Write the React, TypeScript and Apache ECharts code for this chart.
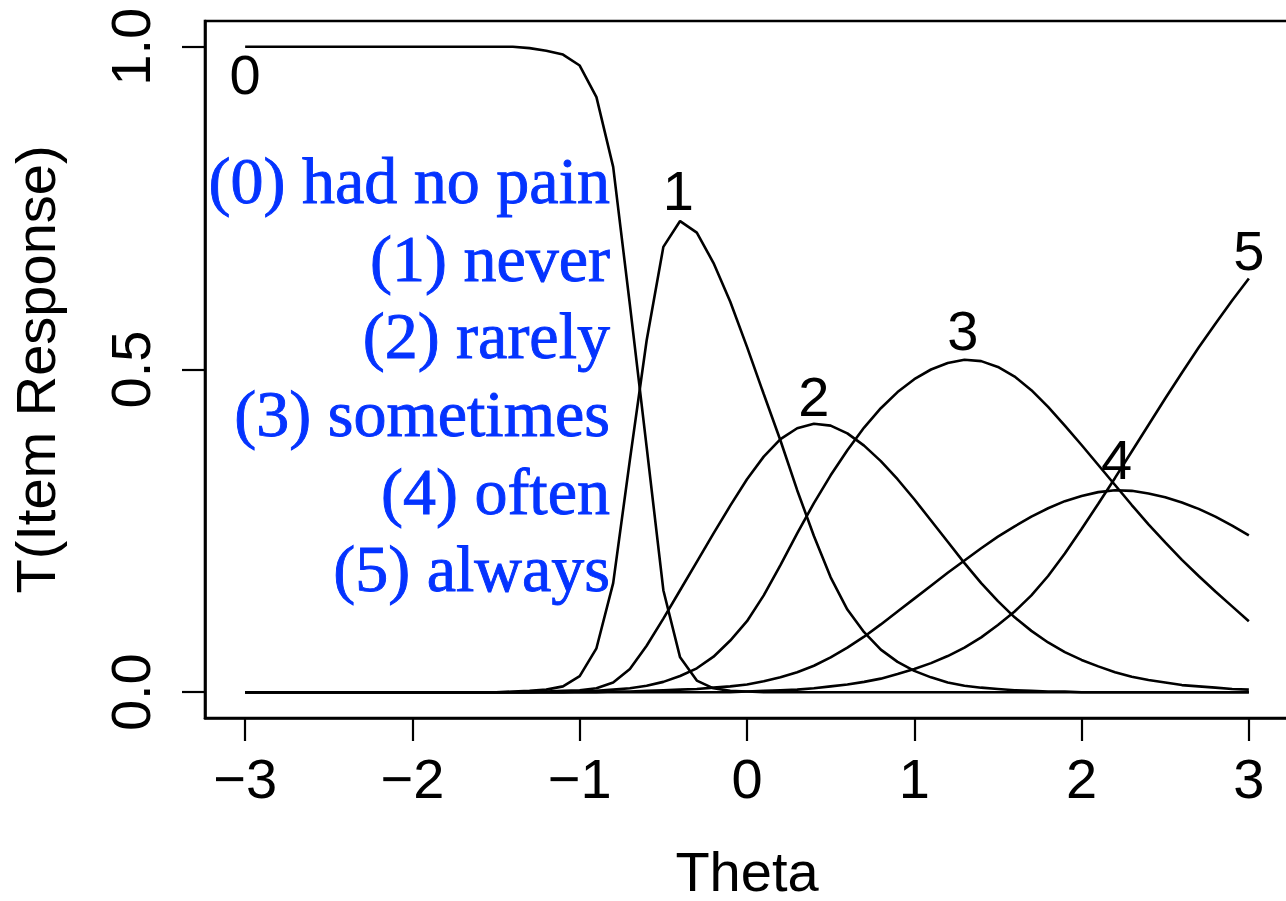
import React, { useEffect, useRef } from 'react';
import * as echarts from 'echarts';

// Theta grid (x) shared by all trace lines
const theta = [
  -3, -2.5, -2, -1.5, -1.4, -1.3, -1.2, -1.1, -1.0, -0.9, -0.8, -0.7, -0.6, -0.5, -0.4, -0.3, -0.2, -0.1,
  0, 0.1, 0.2, 0.3, 0.4, 0.5, 0.6, 0.7, 0.8, 0.9, 1.0, 1.1, 1.2, 1.3, 1.4, 1.5, 1.6, 1.7, 1.8, 1.9,
  2.0, 2.1, 2.2, 2.3, 2.4, 2.5, 2.6, 2.7, 2.8, 2.9, 3.0,
];

// Trace lines T(Item Response) for categories 0..5
const p0 = [
  1, 1, 1, 1, 1, 0.998, 0.994, 0.988, 0.971, 0.922, 0.814, 0.6, 0.38, 0.158, 0.054, 0.018, 0.006, 0.002,
  0.001, 0, 0, 0, 0, 0, 0, 0, 0, 0, 0, 0, 0, 0, 0, 0, 0, 0, 0, 0,
  0, 0, 0, 0, 0, 0, 0, 0, 0, 0, 0,
];
const p1 = [
  0, 0, 0, 0, 0.001, 0.002, 0.004, 0.009, 0.025, 0.068, 0.169, 0.36, 0.545, 0.69, 0.73, 0.712, 0.665, 0.605,
  0.535, 0.462, 0.39, 0.313, 0.242, 0.178, 0.128, 0.093, 0.066, 0.047, 0.033, 0.023, 0.015, 0.01, 0.007, 0.005, 0.003, 0.002, 0.001, 0.001,
  0, 0, 0, 0, 0, 0, 0, 0, 0, 0, 0,
];
const p2 = [
  0, 0, 0, 0, 0, 0, 0.001, 0.002, 0.003, 0.006, 0.015, 0.036, 0.072, 0.114, 0.158, 0.202, 0.246, 0.289,
  0.33, 0.365, 0.392, 0.409, 0.416, 0.413, 0.401, 0.382, 0.358, 0.33, 0.299, 0.266, 0.233, 0.2, 0.169, 0.141, 0.116, 0.095, 0.077, 0.062,
  0.05, 0.04, 0.031, 0.024, 0.019, 0.015, 0.011, 0.009, 0.007, 0.005, 0.004,
];
const p3 = [
  0, 0, 0, 0, 0, 0, 0, 0, 0.001, 0.002, 0.004, 0.006, 0.01, 0.016, 0.025, 0.037, 0.055, 0.08,
  0.11, 0.15, 0.197, 0.246, 0.293, 0.336, 0.375, 0.41, 0.44, 0.465, 0.485, 0.5, 0.51, 0.515, 0.513, 0.504, 0.489, 0.468, 0.442, 0.413,
  0.383, 0.352, 0.321, 0.29, 0.26, 0.232, 0.205, 0.18, 0.156, 0.133, 0.11,
];
const p4 = [
  0, 0, 0, 0, 0, 0, 0, 0, 0, 0, 0.001, 0.001, 0.002, 0.003, 0.004, 0.005, 0.007, 0.009,
  0.012, 0.017, 0.023, 0.031, 0.041, 0.054, 0.069, 0.086, 0.105, 0.125, 0.145, 0.165, 0.185, 0.204, 0.223, 0.241, 0.257, 0.272, 0.285, 0.296,
  0.304, 0.31, 0.313, 0.312, 0.308, 0.302, 0.294, 0.284, 0.272, 0.258, 0.243,
];
const p5 = [
  0, 0, 0, 0, 0, 0, 0, 0, 0, 0, 0, 0, 0, 0, 0, 0, 0, 0,
  0.001, 0.002, 0.003, 0.004, 0.006, 0.009, 0.012, 0.016, 0.021, 0.028, 0.036, 0.045, 0.056, 0.069, 0.085, 0.104, 0.125, 0.15, 0.18, 0.215,
  0.253, 0.292, 0.332, 0.373, 0.414, 0.455, 0.495, 0.534, 0.571, 0.607, 0.641,
];
const curves = [p0, p1, p2, p3, p4, p5];

// Category number labels placed near each curve
const curveLabelText = ['0', '1', '2', '3', '4', '5'];
const curveLabelTheta = [-3.0, -0.41, 0.4, 1.29, 2.21, 3.0];
const curveLabelP = [0.957, 0.778, 0.458, 0.561, 0.36, 0.685];

// Response category descriptions
const responseLabels = [
  '(0) had no pain',
  '(1) never',
  '(2) rarely',
  '(3) sometimes',
  '(4) often',
  '(5) always',
];

// Axis ticks
const xTickValues = [-3, -2, -1, 0, 1, 2, 3];
const xTickLabels = ['\u22123', '\u22122', '\u22121', '0', '1', '2', '3'];
const yTickValues = [0, 0.5, 1];
const yTickLabels = ['0.0', '0.5', '1.0'];

const SANS = "'Liberation Sans', Arial, Helvetica, sans-serif";
const SERIF = "'Liberation Serif', 'Times New Roman', serif";

export default function App() {
  const ref = useRef<HTMLDivElement>(null);

  useEffect(() => {
    document.body.style.margin = '0';
    const chart = echarts.init(ref.current!, null, { renderer: 'svg' });

    const lineSeries = curves.map((vals, k) => ({
      type: 'line',
      name: 'cat' + k,
      data: theta.map((t, i) => [t, vals[i]]),
      showSymbol: false,
      symbol: 'none',
      smooth: false,
      lineStyle: { color: '#000', width: 2.6 },
      silent: true,
      z: 2,
    }));

    const labelSeries = {
      type: 'scatter',
      symbolSize: 1,
      itemStyle: { color: 'rgba(0,0,0,0)', opacity: 1 },
      silent: true,
      z: 3,
      data: curveLabelText.map((txt, i) => ({
        value: [curveLabelTheta[i], curveLabelP[i]],
        label: { formatter: txt, color: '#000', opacity: 1 },
      })),
      label: {
        show: true,
        position: 'inside',
        color: '#000',
        opacity: 1,
        fontSize: 56,
        fontFamily: SANS,
      },
    };

    const baselines = [203, 281, 358, 436, 514, 591];
    const graphicText = responseLabels.map((txt, i) => ({
      type: 'text',
      x: 610,
      y: baselines[i] - 22.3,
      silent: true,
      z: 10,
      style: {
        text: txt,
        fill: '#0433FF',
        stroke: '#0433FF',
        lineWidth: 0.9,
        fontSize: 66,
        fontFamily: SERIF,
        align: 'right',
        verticalAlign: 'middle',
      },
    }));

    chart.setOption({
      animation: false,
      backgroundColor: '#fff',
      grid: {
        left: 205,
        top: 21,
        width: 1084,
        height: 697,
        show: true,
        borderColor: '#000',
        borderWidth: 2.6,
        backgroundColor: 'transparent',
        containLabel: false,
        outerBoundsMode: 'none',
      },
      xAxis: {
        type: 'value',
        min: -3.24,
        max: 3.24,
        name: 'Theta',
        nameLocation: 'middle',
        nameGap: 125,
        nameTextStyle: { fontSize: 56, fontFamily: SANS, color: '#000' },
        axisLine: { show: true, onZero: false, lineStyle: { color: '#000', width: 2.6 } },
        axisTick: {
          show: true,
          inside: false,
          length: 23,
          customValues: xTickValues,
          lineStyle: { color: '#000', width: 2.2 },
        },
        axisLabel: {
          show: true,
          customValues: xTickValues,
          margin: 32,
          fontSize: 56,
          fontFamily: SANS,
          color: '#000',
          formatter: (v: number) => {
            const idx = xTickValues.findIndex((x) => Math.abs(x - v) < 1e-9);
            return idx >= 0 ? xTickLabels[idx] : '';
          },
        },
        splitLine: { show: false },
      },
      yAxis: {
        type: 'value',
        min: -0.04,
        max: 1.04,
        name: 'T(Item Response)',
        nameLocation: 'middle',
        nameRotate: 90,
        nameGap: 142,
        nameTextStyle: { fontSize: 56, fontFamily: SANS, color: '#000' },
        axisLine: { show: true, onZero: false, lineStyle: { color: '#000', width: 2.6 } },
        axisTick: {
          show: true,
          inside: false,
          length: 23,
          customValues: yTickValues,
          lineStyle: { color: '#000', width: 2.2 },
        },
        axisLabel: {
          show: true,
          customValues: yTickValues,
          rotate: 90,
          margin: 47,
          fontSize: 56,
          fontFamily: SANS,
          color: '#000',
          formatter: (v: number) => {
            const idx = yTickValues.findIndex((y) => Math.abs(y - v) < 1e-9);
            return idx >= 0 ? yTickLabels[idx] : '';
          },
        },
        splitLine: { show: false },
      },
      series: [...lineSeries, labelSeries],
      graphic: graphicText,
    });

    return () => chart.dispose();
  }, []);

  return (
    <div
      ref={ref}
      style={{ position: 'fixed', left: 0, top: 0, width: 1286, height: 901, background: '#fff' }}
    />
  );
}
